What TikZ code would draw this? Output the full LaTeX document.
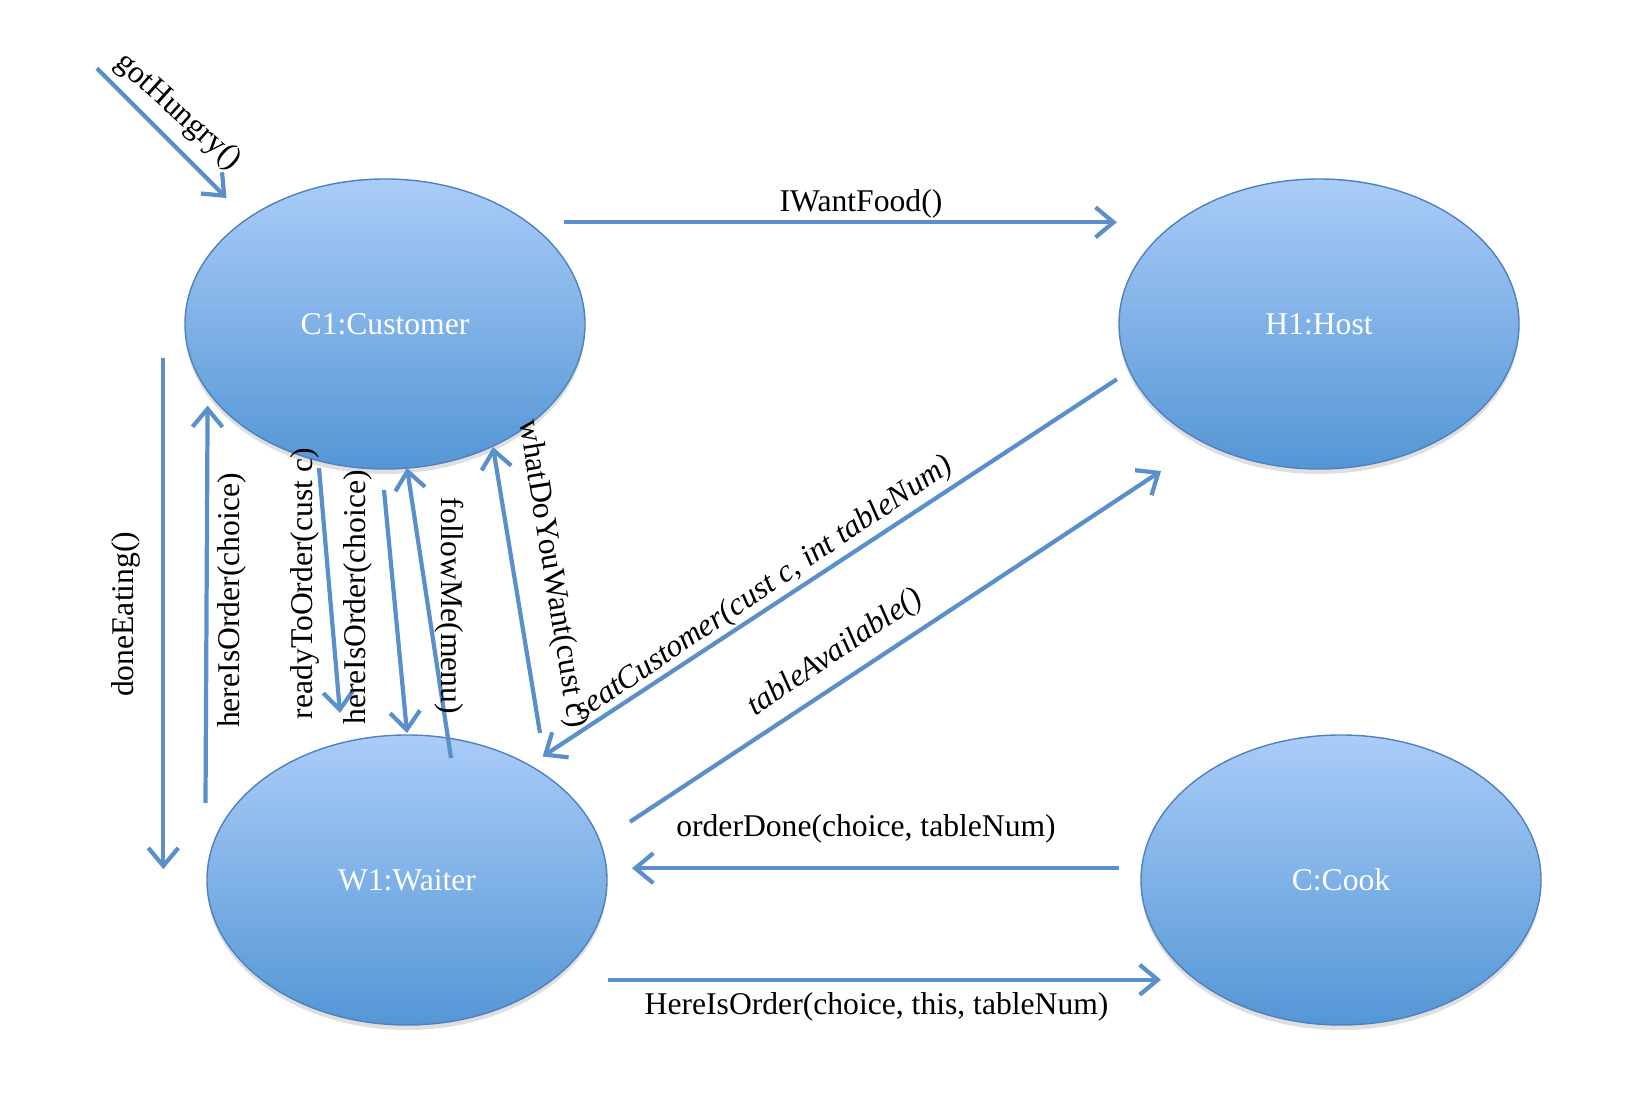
\documentclass[tikz,border=0pt]{standalone}
\usepackage{fontspec}
\setmainfont{Liberation Serif}
\usetikzlibrary{shapes.geometric}
\usetikzlibrary{arrows.meta}
\usetikzlibrary{shadows}
\usetikzlibrary{calc}

\definecolor{msgblue}{RGB}{91,143,201}
\definecolor{objtop}{RGB}{170,204,248}
\definecolor{objbot}{RGB}{84,150,213}
\definecolor{objedge}{RGB}{79,129,189}

\tikzset{
  obj/.style={ellipse, minimum width=4cm, minimum height=2.9cm, draw=objedge,
    line width=0.4pt, top color=objtop, bottom color=objbot, text=white,
    font=\fontsize{9}{11}\selectfont,
    drop shadow={opacity=0.25, shadow xshift=0pt, shadow yshift=-0.05cm}},
  msg/.style={draw=msgblue, line width=1.2pt, -{Straight Barb[length=1.8mm,width=3mm]}},
  lbl/.style={font=\fontsize{9}{11}\selectfont, inner sep=1pt},
}

\begin{document}
\begin{tikzpicture}
\useasboundingbox (0,0) rectangle (16.52,11.06);
% objects
\node[obj] (cust) at (3.85,7.82) {C1:Customer};
\node[obj] (host) at (13.19,7.82) {H1:Host};
\node[obj] (wait) at (4.07,2.26) {W1:Waiter};
\node[obj] (cook) at (13.41,2.26) {C:Cook};

% messages
\draw[msg] ($(cust)+(-2.88,2.555)$) -- ($(cust)+(-1.585,1.26)$);
\node[lbl, rotate=-42] (hungry) at (1.78,9.94) {gotHungry()};

\draw[msg] ($(cust)+(1.787,1.017)$) -- ($(host)+(-2.022,1.017)$);
\node[lbl, above] (food) at (8.61,8.84) {IWantFood()};

\draw[msg] ($(cust)+(-2.217,-0.342)$) -- ($(wait)+(-2.437,0.108)$);
\node[lbl, rotate=90] (eating) at (1.264,4.917) {doneEating()};

\draw[msg] ($(wait)+(-2.015,0.772)$) -- ($(cust)+(-1.774,-0.816)$);
\node[lbl, rotate=90] (order1) at (2.318,5.054) {hereIsOrder(choice)};

\draw[msg] ($(cust)+(-0.66,-1.44)$) -- ($(wait)+(-0.67,1.67)$);
\node[lbl, rotate=90] (ready) at (3.05,5.223) {readyToOrder(cust c)};

\draw[msg] ($(cust)+(-0.01,-1.66)$) -- ($(wait)+(0,1.47)$);
\node[lbl, rotate=90] (order2) at (3.582,5.086) {hereIsOrder(choice)};

\draw[msg] ($(wait)+(0.44,1.22)$) -- ($(cust)+(0.22,-1.44)$);
\node[lbl, rotate=-90] (follow) at (4.49,5.002) {followMe(menu)};

\draw[msg] ($(wait)+(1.33,1.47)$) -- ($(cust)+(1.08,-1.23)$);
\node[lbl, rotate=-80.7] (want) at (5.52,5.318) {whatDoYouWant(cust c)};

\draw[msg] ($(host)+(-2.022,-0.553)$) -- ($(wait)+(1.356,1.235)$);
\node[lbl, rotate=34] (seat) at (7.64,5.17) {\itshape seatCustomer(cust c, int tableNum)};

\draw[msg] ($(wait)+(2.23,0.582)$) -- ($(host)+(-1.58,-1.47)$);
\node[lbl, rotate=34] (avail) at (8.355,4.528) {\itshape tableAvailable()};

\draw[msg] ($(cook)+(-2.22,0.118)$) -- ($(wait)+(2.25,0.118)$);
\node[lbl] (done) at (8.66,2.768) {orderDone(choice, tableNum)};

\draw[msg] ($(wait)+(2.01,-0.998)$) -- ($(cook)+(-1.80,-0.998)$);
\node[lbl] (here) at (8.766,0.988) {HereIsOrder(choice, this, tableNum)};
\end{tikzpicture}
\end{document}
